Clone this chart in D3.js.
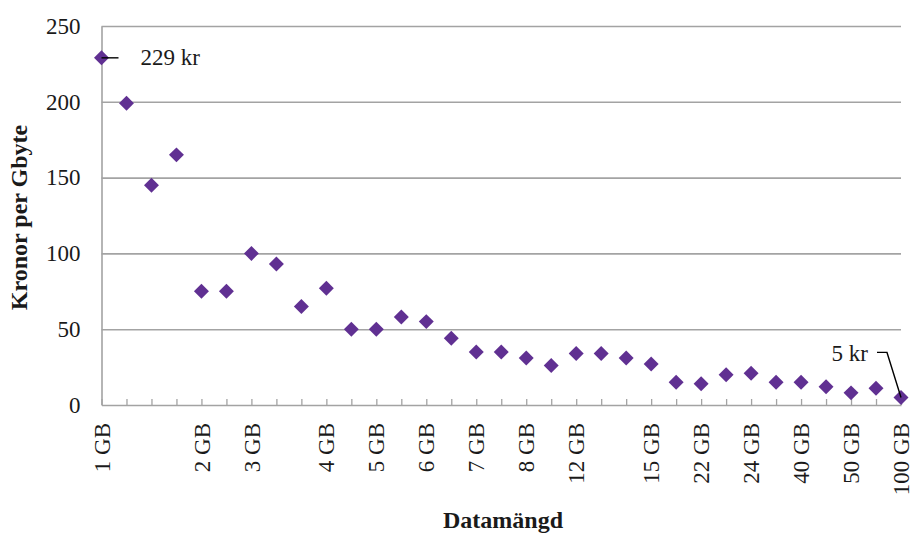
<!DOCTYPE html>
<html>
<head>
<meta charset="utf-8">
<script src="https://cdn.jsdelivr.net/npm/d3@7"></script>
<style>
  html, body { margin: 0; padding: 0; background: #fff; }
  svg { display: block; font-family: "Liberation Serif", "Times New Roman", serif; }
</style>
</head>
<body>
<svg id="chart" width="911" height="536"></svg>
<script>
// ---- data ----
const xLabels = ["1 GB", "", "", "", "2 GB", "", "3 GB", "", "", "4 GB", "", "5 GB", "", "6 GB", "", "7 GB", "",
                 "8 GB", "", "12 GB", "", "", "15 GB", "", "22 GB", "", "24 GB", "", "40 GB", "", "50 GB", "", "100 GB"];
const prices = [229, 199, 145, 165, 75, 75, 100, 93, 65, 77, 50, 50, 58, 55, 44, 35, 35,
                31, 26, 34, 34, 31, 27, 15, 14, 20, 21, 15, 15, 12, 8, 11, 5];
const yTicks = [0, 50, 100, 150, 200, 250];
const annotations = [
  { index: 0, text: "229 kr" },
  { index: 32, text: "5 kr" }
];
const yTitle = "Kronor per Gbyte";
const xTitle = "Datamängd";

// ---- layout ----
const svg = d3.select("#chart");
const plotLeft = 101.5, plotRight = 901, plotTop = 26, plotBottom = 405;
const gridColor = "#a3a3a3";
const markColor = "#603092";
const textColor = "#1a1a1a";

const x = d3.scalePoint().domain(d3.range(prices.length)).range([plotLeft, plotRight]).padding(0);
const y = d3.scaleLinear().domain([0, 250]).range([plotBottom, plotTop]);

// gridlines
const grid = svg.append("g").attr("transform", `translate(${plotLeft},0)`)
  .call(d3.axisLeft(y).tickValues(yTicks.filter(d => d > 0)).tickSize(-(plotRight - plotLeft)).tickFormat(""));
grid.select(".domain").remove();
grid.selectAll(".tick line").attr("stroke", gridColor).attr("stroke-width", 1.6);

// y axis
const yAxis = svg.append("g").attr("transform", `translate(${plotLeft},0)`)
  .call(d3.axisLeft(y).tickValues(yTicks).tickSize(0).tickPadding(21));
yAxis.select(".domain").attr("stroke", gridColor).attr("stroke-width", 1.6);
yAxis.selectAll(".tick text")
  .attr("font-family", "Liberation Serif, serif").attr("font-size", 23).attr("fill", textColor);

// x axis
const xAxis = svg.append("g").attr("transform", `translate(0,${plotBottom})`)
  .call(d3.axisBottom(x).tickSizeInner(-6).tickSizeOuter(0).tickFormat(i => xLabels[i]));
xAxis.select(".domain").attr("stroke", gridColor).attr("stroke-width", 1.6);
xAxis.selectAll(".tick line").attr("stroke", gridColor).attr("stroke-width", 1.3);
xAxis.selectAll(".tick text")
  .attr("font-family", "Liberation Serif, serif").attr("font-size", 23).attr("fill", textColor)
  .attr("transform", "rotate(-90)")
  .attr("text-anchor", "end")
  .attr("x", -18).attr("y", 0).attr("dy", "0.33em");

// markers
const diamond = d3.symbol().type(d3.symbolSquare).size(112);
svg.append("g").selectAll("path")
  .data(prices)
  .join("path")
  .attr("d", diamond)
  .attr("transform", (d, i) => `translate(${x(i)},${y(d)}) rotate(45)`)
  .attr("fill", markColor);

// annotations
const a0 = annotations[0];
const p0x = x(a0.index), p0y = y(prices[a0.index]);
svg.append("line").attr("x1", p0x).attr("y1", p0y).attr("x2", p0x + 17).attr("y2", p0y)
  .attr("stroke", "#000").attr("stroke-width", 1.4);
svg.append("text").attr("x", p0x + 39).attr("y", p0y + 7)
  .attr("font-size", 23).attr("fill", textColor).text(a0.text);

const a1 = annotations[1];
const p1x = x(a1.index), p1y = y(prices[a1.index]);
svg.append("path")
  .attr("d", `M${p1x - 24},${p1y - 45} L${p1x - 14},${p1y - 45} L${p1x},${p1y}`)
  .attr("fill", "none").attr("stroke", "#000").attr("stroke-width", 1.4);
svg.append("text").attr("x", p1x - 33).attr("y", p1y - 36).attr("text-anchor", "end")
  .attr("font-size", 23).attr("fill", textColor).text(a1.text);

// axis titles
svg.append("text")
  .attr("transform", `translate(27,${(plotTop + plotBottom) / 2 + 2}) rotate(-90)`)
  .attr("text-anchor", "middle").attr("font-weight", "bold").attr("font-size", 24)
  .attr("fill", textColor).text(yTitle);
svg.append("text")
  .attr("x", 503).attr("y", 528)
  .attr("text-anchor", "middle").attr("font-weight", "bold").attr("font-size", 24)
  .attr("fill", textColor).text(xTitle);
</script>
</body>
</html>
